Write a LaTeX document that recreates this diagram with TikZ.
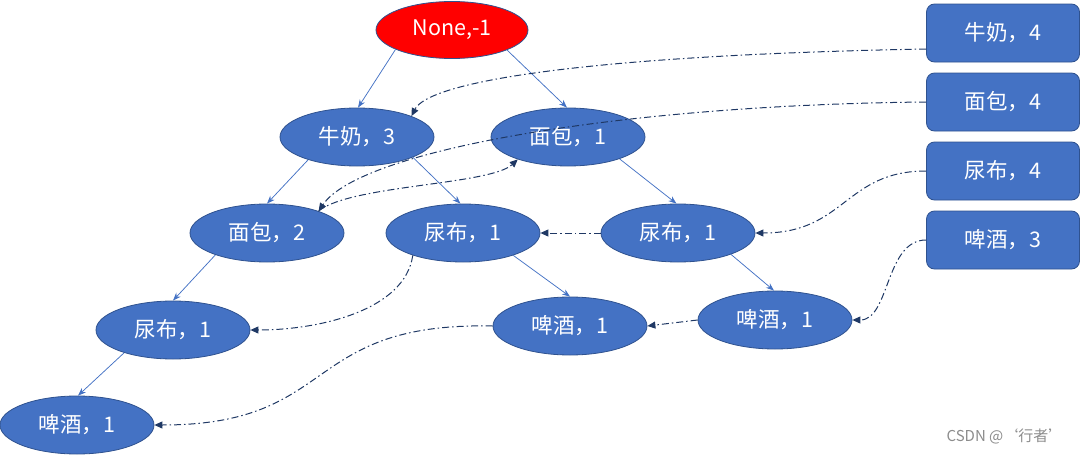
\documentclass[tikz,border=0pt]{standalone}
\usepackage{fontspec}
\setmainfont{Noto Sans CJK SC}
\usetikzlibrary{arrows.meta,shapes.geometric}
\definecolor{nodeblue}{HTML}{4472C4}
\definecolor{edgeblue}{HTML}{2F528F}
\definecolor{linkblue}{HTML}{1F3864}
\definecolor{treeblue}{HTML}{4472C4}
\begin{document}
\begin{tikzpicture}[x=1pt,y=-1pt,
 item/.style={ellipse, draw=edgeblue, line width=0.8pt, fill=nodeblue, text=white,
   minimum width=154pt, minimum height=58pt, inner sep=0pt, font=\fontsize{21.5}{24}\selectfont},
 rootnode/.style={item, fill=red, minimum width=152pt, minimum height=57pt},
 head/.style={rectangle, rounded corners=8pt, draw=edgeblue, line width=0.8pt, fill=nodeblue,
   text=white, minimum width=153pt, minimum height=58pt, inner sep=0pt, font=\fontsize{21.5}{24}\selectfont},
 tree/.style={draw=treeblue, line width=0.75pt, -{Stealth[length=8pt,width=6pt]}},
 link/.style={draw=linkblue, line width=1pt, dash pattern=on 7pt off 3pt on 1.5pt off 3pt,
   -{Triangle[length=8pt,width=7pt]}},
]
\useasboundingbox (0,0) rectangle (1080,455);
% tree nodes
\node[rootnode] (r) at (452,30) {None,-1};
\node[item] (m3) at (357,137) {牛奶，3};
\node[item] (b1) at (568,137) {面包，1};
\node[item] (b2) at (267,233) {面包，2};
\node[item] (d1m) at (463,233) {尿布，1};
\node[item] (d1r) at (678,233) {尿布，1};
\node[item] (d1l) at (173,330) {尿布，1};
\node[item] (p1m) at (570,326) {啤酒，1};
\node[item] (p1r) at (775,320) {啤酒，1};
\node[item] (p1l) at (77,425) {啤酒，1};
% header table
\node[head] (hm) at (1003,33) {牛奶，4};
\node[head] (hb) at (1003,102) {面包，4};
\node[head] (hd) at (1003,171) {尿布，4};
\node[head] (hp) at (1003,240) {啤酒，3};
% tree edges
\draw[tree] (r.-161) -- (m3.88);
\draw[tree] (r.-20) -- (b1.92);
\draw[tree] (m3.-155) -- (b2.90);
\draw[tree] (m3.-20) -- (d1m.95);
\draw[tree] (b1.-23) -- (d1r.93);
\draw[tree] (b2.-157) -- (d1l.90);
\draw[tree] (d1m.-24) -- (p1m.90);
\draw[tree] (d1r.-22) -- (p1r.92);
\draw[tree] (d1l.-155) -- (p1l.88);
% node links
\draw[link] ([yshift=-16pt]hm.west) .. controls (600,55) and (430,80) .. (m3.21);
\draw[link] (hb.west) .. controls (620,105) and (360,150) .. (b2.23);
\draw[link] (b2.23) .. controls (350,185) and (490,185) .. (b1.-156);
\draw[link] (hd.west) .. controls (845,171) and (845,233) .. (d1r.east);
\draw[link] (d1r.west) -- (d1m.east);
\draw[link] (d1m.-156) .. controls (405,310) and (320,330) .. (d1l.east);
\draw[link] (hp.west) .. controls (885,240) and (890,320) .. (p1r.east);
\draw[link] (p1r.west) -- (p1m.east);
\draw[link] (p1m.west) .. controls (300,322) and (340,425) .. (p1l.east);
% watermark
\node[text=black!45, font=\fontsize{15}{17}\selectfont] (wm) at (1005,436) {CSDN @‘行者’};
\end{tikzpicture}
\end{document}
